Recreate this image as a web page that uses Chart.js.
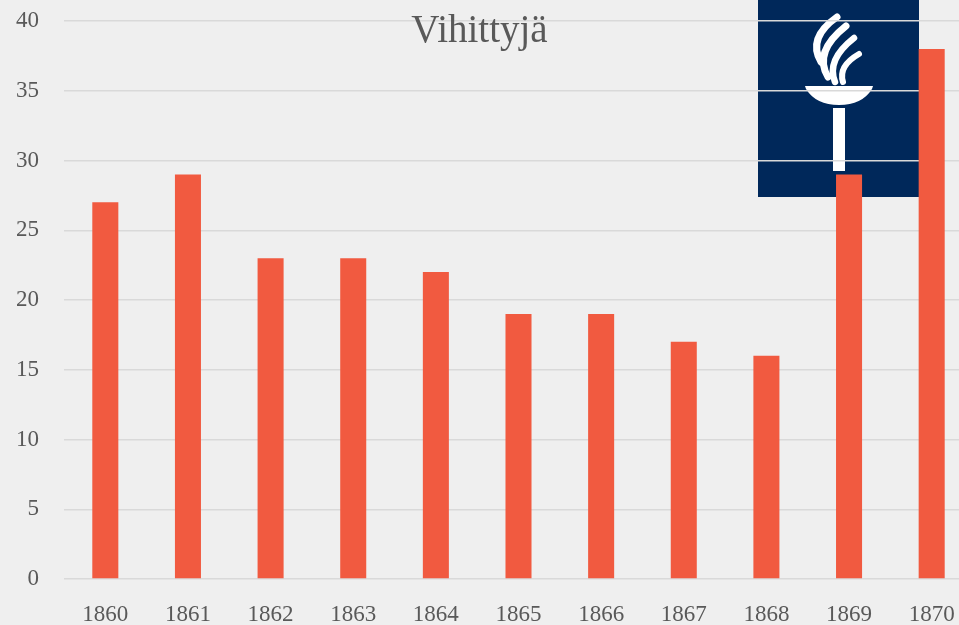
<!DOCTYPE html>
<html>
<head>
<meta charset="utf-8">
<script src="https://cdn.jsdelivr.net/npm/chart.js@4"></script>
<style>
  html, body { margin: 0; padding: 0; background: #efefef; overflow: hidden; }
  #wrap { width: 973px; height: 625px; }
</style>
</head>
<body>
<div id="wrap"><canvas id="grafico"></canvas></div>
<script>
const vuodet = ['1860', '1861', '1862', '1863', '1864', '1865', '1866', '1867', '1868', '1869', '1870'];
const vihityt = [27, 29, 23, 23, 22, 19, 19, 17, 16, 29, 38];
const otsikko = 'Vihittyjä';

// logo piirretään taustalle, ruudukko ja pylväät sen päälle
const logo = {
    id: 'logo',
    beforeDraw(chart) {
        const ctx = chart.ctx;
        ctx.save();
        ctx.fillStyle = '#efefef';
        ctx.fillRect(0, 0, chart.width, chart.height);
        ctx.fillStyle = '#00285a';
        ctx.fillRect(758, 0, 161, 197);
        ctx.fillStyle = '#ffffff';
        ctx.strokeStyle = '#ffffff';
        // varsi
        ctx.fillRect(833, 108, 12, 63);
        // malja
        ctx.beginPath();
        ctx.moveTo(805, 86);
        ctx.lineTo(873, 86);
        ctx.lineTo(872, 89);
        ctx.quadraticCurveTo(862, 105, 839, 105);
        ctx.quadraticCurveTo(816, 105, 806, 89);
        ctx.closePath();
        ctx.fill();
        // liekki
        ctx.lineCap = 'round';
        const liekit = [
            [821, 62, 807, 38, 837, 17, 7],
            [828, 77, 813, 52, 846, 26, 7],
            [835, 82, 826, 60, 854, 38, 6.5],
            [843, 82, 838, 66, 859, 54, 6]
        ];
        liekit.forEach(l => {
            ctx.lineWidth = l[6];
            ctx.beginPath();
            ctx.moveTo(l[0], l[1]);
            ctx.quadraticCurveTo(l[2], l[3], l[4], l[5]);
            ctx.stroke();
        });
        ctx.restore();
    },
    afterDraw(chart) {
        const ctx = chart.ctx;
        ctx.save();
        ctx.fillStyle = '#595959';
        ctx.font = '39px "Liberation Serif"';
        ctx.textAlign = 'center';
        ctx.textBaseline = 'alphabetic';
        ctx.fillText(otsikko, 479.5, 42);
        ctx.restore();
    }
};

window.onload = () => {
    const konteksti = document.getElementById('grafico');
    new Chart(konteksti, {
        type: 'bar',
        data: {
            labels: vuodet,
            datasets: [{
                label: otsikko,
                data: vihityt,
                backgroundColor: '#f15a40',
                barPercentage: 0.315,
                categoryPercentage: 1
            }]
        },
        options: {
            responsive: true,
            maintainAspectRatio: false,
            animation: false,
            layout: { padding: { top: 21, right: 0, left: 0, bottom: 0 } },
            plugins: {
                legend: { display: false },
                tooltip: { enabled: false }
            },
            scales: {
                x: {
                    grid: { display: false },
                    border: { display: false },
                    afterFit: s => { s.height = 46; },
                    ticks: {
                        color: '#595959',
                        font: { family: 'Liberation Serif', size: 23 },
                        padding: 14,
                        maxRotation: 0
                    }
                },
                y: {
                    min: 0,
                    max: 40,
                    afterFit: s => {
                        s.width = 64;
                        s.paddingTop = 0;
                        s.paddingBottom = 0;
                    },
                    grid: { color: '#d9d9d9', lineWidth: 1.5, drawTicks: false },
                    border: { display: false },
                    ticks: {
                        stepSize: 5,
                        color: '#595959',
                        font: { family: 'Liberation Serif', size: 23 },
                        padding: 25
                    }
                }
            }
        },
        plugins: [logo]
    });
};
</script>
</body>
</html>
